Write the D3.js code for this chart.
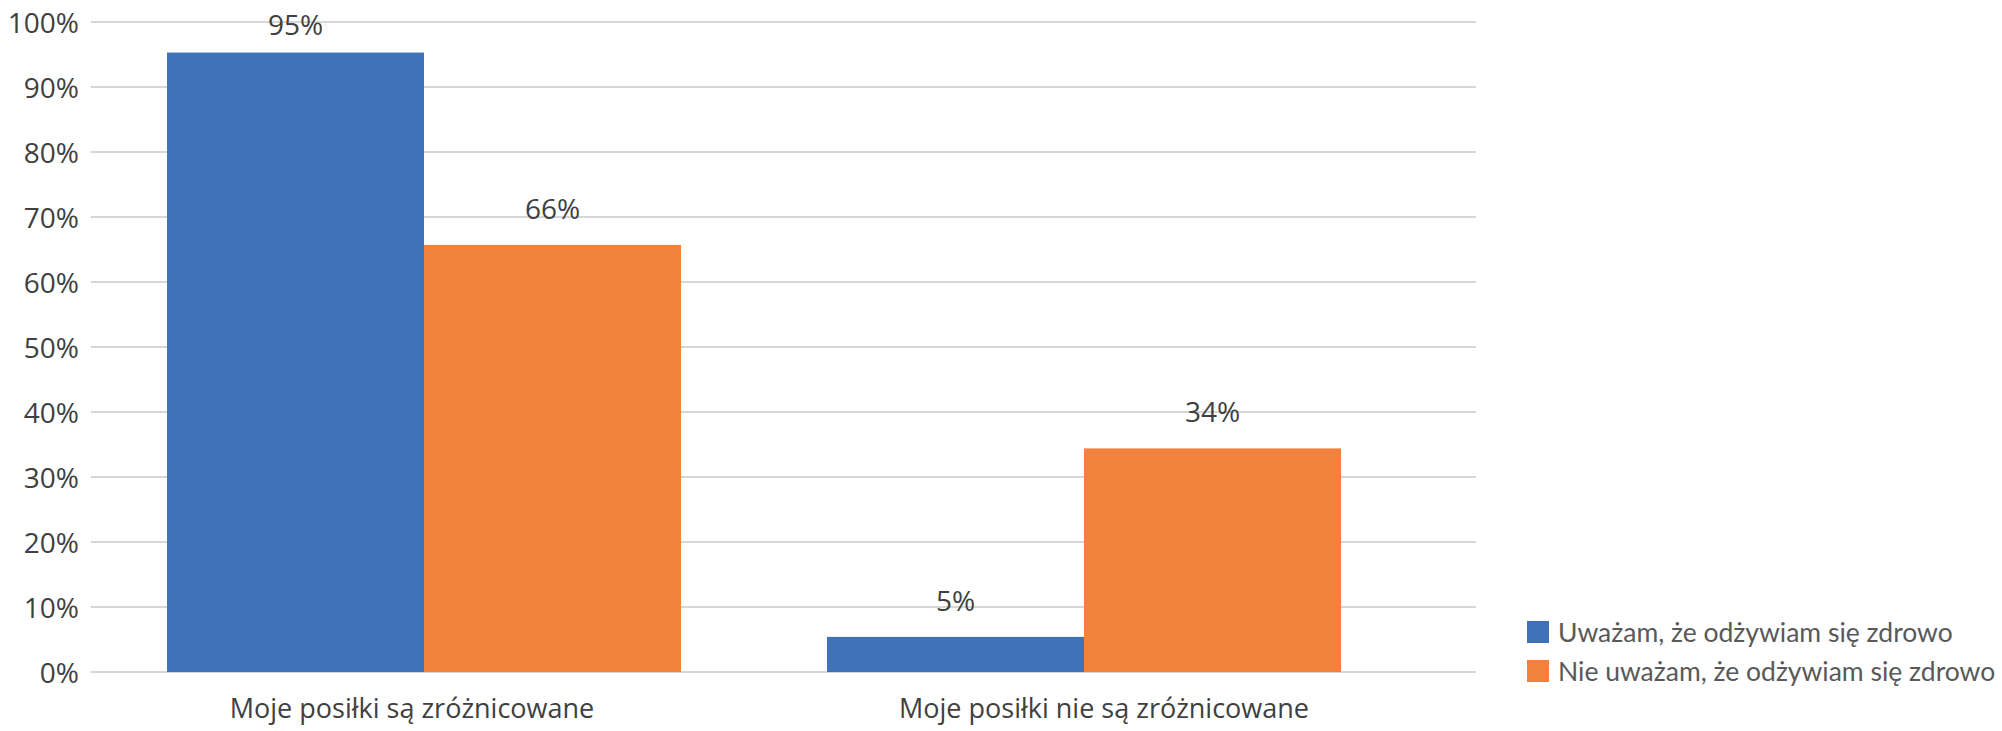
<!DOCTYPE html>
<html>
<head>
<meta charset="utf-8">
<script src="https://cdn.jsdelivr.net/npm/d3@7"></script>
<style>
  html, body { margin: 0; padding: 0; background: #ffffff; }
  svg { display: block; }
</style>
</head>
<body>
<svg id="chart" width="2002" height="731"></svg>
<script>
// ---- data ----
const categories = ["Moje posiłki są zróżnicowane", "Moje posiłki nie są zróżnicowane"];
const seriesNames = ["Uważam, że odżywiam się zdrowo", "Nie uważam, że odżywiam się zdrowo"];
const seriesHealthy = [0.953, 0.054];
const seriesNotHealthy = [0.657, 0.344];
const yTicks = [0, 0.1, 0.2, 0.3, 0.4, 0.5, 0.6, 0.7, 0.8, 0.9, 1.0];
const seriesColors = ["#4072b8", "#f1823b"];

// ---- layout ----
const svg = d3.select("#chart");
const plot = { left: 91, right: 1476, top: 22, bottom: 672 };

const y = d3.scaleLinear().domain([0, 1]).range([plot.bottom, plot.top]);

// bar group placement
const x0 = d3.scaleBand().domain(categories).range([94, 1414]).padding(0);
const x1 = d3.scaleBand().domain(seriesNames).range([0, x0.bandwidth()]).paddingInner(0).paddingOuter(0.284);
// category label placement
const xLab = d3.scaleBand().domain(categories).range([66, 1450]).padding(0);

const fmt = d3.format(".0%");
const textCol = "#404040";

// gridlines
svg.append("g")
  .selectAll("line")
  .data(yTicks)
  .join("line")
  .attr("x1", plot.left)
  .attr("x2", plot.right)
  .attr("y1", d => y(d))
  .attr("y2", d => y(d))
  .attr("stroke", "#d6d6d6")
  .attr("stroke-width", 2);

// y axis labels
const yAxis = d3.axisLeft(y).tickValues(yTicks).tickFormat(fmt).tickSize(0).tickPadding(0);
const yg = svg.append("g").attr("transform", `translate(${plot.left - 12},0)`).call(yAxis);
yg.select(".domain").remove();
yg.selectAll("text")
  .attr("font-family", "'Open Sans', sans-serif")
  .attr("font-size", 28)
  .attr("fill", textCol)
  .attr("dy", "0.36em");

// bars
const rows = categories.map((c, i) => ({
  cat: c,
  vals: [
    { s: seriesNames[0], v: seriesHealthy[i], c: seriesColors[0] },
    { s: seriesNames[1], v: seriesNotHealthy[i], c: seriesColors[1] }
  ]
}));

const groups = svg.append("g")
  .selectAll("g")
  .data(rows)
  .join("g")
  .attr("transform", d => `translate(${x0(d.cat)},0)`);

groups.selectAll("rect")
  .data(d => d.vals)
  .join("rect")
  .attr("x", d => x1(d.s))
  .attr("width", x1.bandwidth())
  .attr("y", d => y(d.v))
  .attr("height", d => y(0) - y(d.v))
  .attr("fill", d => d.c);

// data labels (kept inside the plot area, as the reference does)
groups.selectAll("text")
  .data(d => d.vals)
  .join("text")
  .attr("x", d => x1(d.s) + x1.bandwidth() / 2)
  .attr("y", d => Math.max(y(d.v) - 26, plot.top + 13))
  .attr("text-anchor", "middle")
  .attr("font-family", "'Open Sans', sans-serif")
  .attr("font-size", 28)
  .attr("fill", textCol)
  .text(d => fmt(d.v));

// x axis labels
const xAxis = d3.axisBottom(xLab).tickSize(0).tickPadding(0);
const xg = svg.append("g").attr("transform", `translate(0,${plot.bottom + 46})`).call(xAxis);
xg.select(".domain").remove();
xg.selectAll("text")
  .attr("font-family", "'Open Sans', sans-serif")
  .attr("font-size", 27)
  .attr("fill", textCol)
  .attr("dy", 0);

// legend
const legend = svg.append("g").attr("transform", "translate(1527,621)");
const li = legend.selectAll("g")
  .data(seriesNames)
  .join("g")
  .attr("transform", (d, i) => `translate(0,${i * 39})`);
li.append("rect")
  .attr("width", 22)
  .attr("height", 22)
  .attr("fill", (d, i) => seriesColors[i]);
li.append("text")
  .attr("x", 31)
  .attr("y", 21)
  .attr("font-family", "Lato, sans-serif")
  .attr("font-size", 26.5)
  .attr("fill", "#595959")
  .text(d => d);
</script>
</body>
</html>
